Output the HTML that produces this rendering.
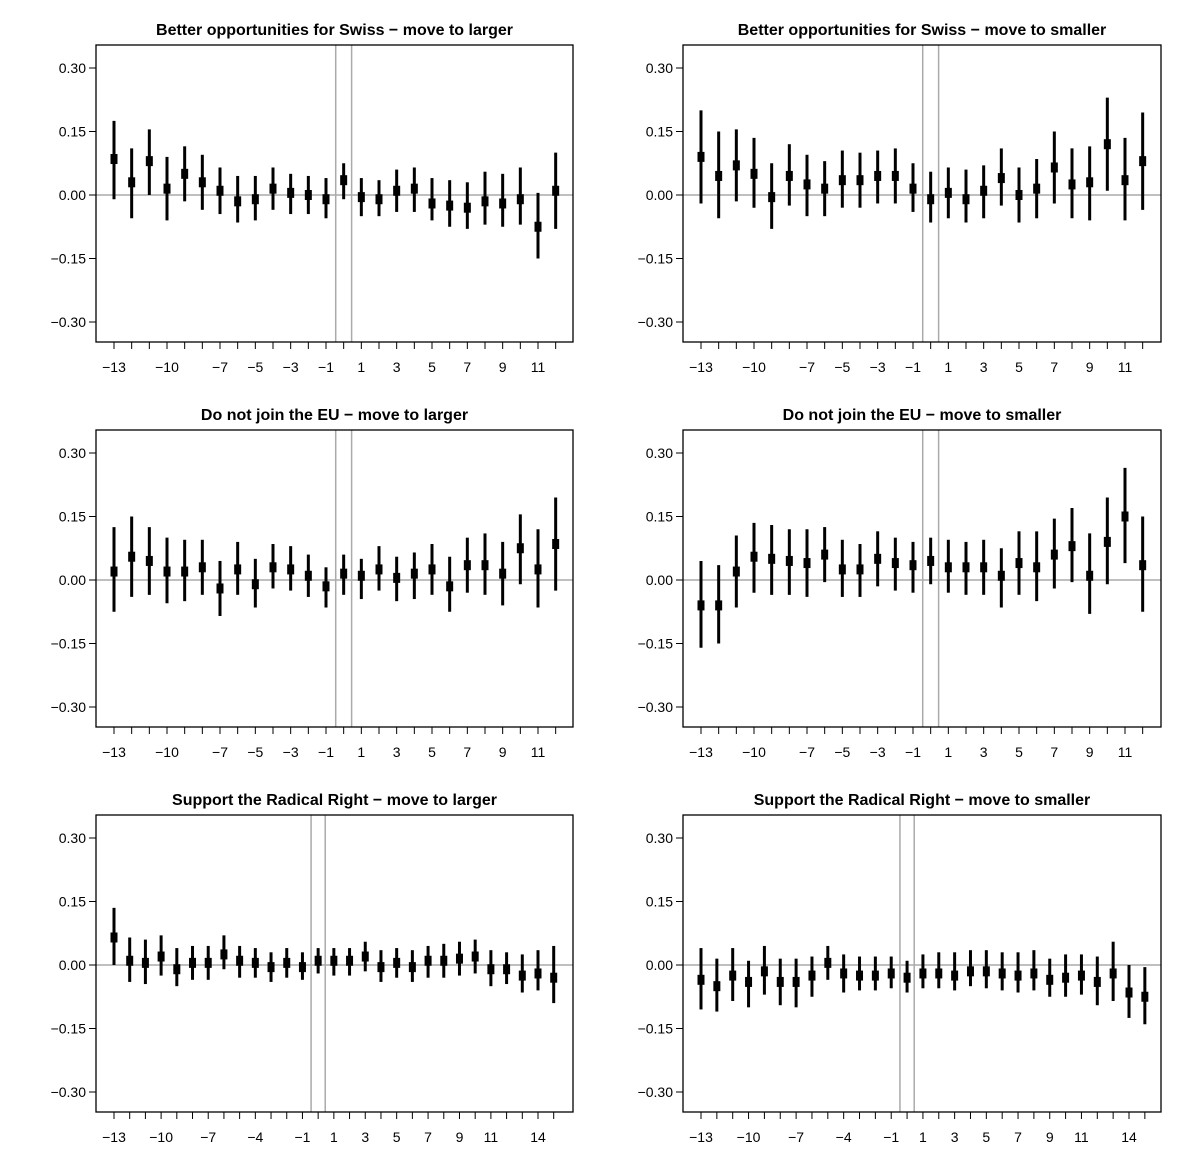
<!DOCTYPE html>
<html><head><meta charset="utf-8"><style>
body{margin:0;background:#fff;}
svg{display:block;font-family:"Liberation Sans",Arial,sans-serif;}
</style></head><body>
<svg id="c" width="1200" height="1162" viewBox="0 0 1200 1162"></svg>
<script>
const titles=["Better opportunities for Swiss \u2212 move to larger","Better opportunities for Swiss \u2212 move to smaller","Do not join the EU \u2212 move to larger","Do not join the EU \u2212 move to smaller","Support the Radical Right \u2212 move to larger","Support the Radical Right \u2212 move to smaller"];
const yTicks=[0.30,0.15,0.00,-0.15,-0.30];
const yTickLabels=["0.30","0.15","0.00","\u22120.15","\u22120.30"];
const xTicksTop=[-13,-10,-7,-5,-3,-1,1,3,5,7,9,11];
const xTicksBottom=[-13,-10,-7,-4,-1,1,3,5,7,9,11,14];
const p1Est=[0.085,0.03,0.08,0.015,0.05,0.03,0.01,-0.015,-0.01,0.015,0.005,0.0,-0.01,0.035,-0.005,-0.01,0.01,0.015,-0.02,-0.025,-0.03,-0.015,-0.02,-0.01,-0.075,0.01];
const p1Lo=[-0.01,-0.055,0.0,-0.06,-0.015,-0.035,-0.045,-0.065,-0.06,-0.035,-0.045,-0.045,-0.055,-0.01,-0.05,-0.05,-0.04,-0.04,-0.06,-0.075,-0.08,-0.07,-0.075,-0.07,-0.15,-0.08];
const p1Hi=[0.175,0.11,0.155,0.09,0.115,0.095,0.065,0.045,0.045,0.065,0.05,0.045,0.04,0.075,0.04,0.035,0.06,0.065,0.04,0.035,0.03,0.055,0.05,0.065,0.005,0.1];
const p2Est=[0.09,0.045,0.07,0.05,-0.005,0.045,0.025,0.015,0.035,0.035,0.045,0.045,0.015,-0.01,0.005,-0.01,0.01,0.04,0.0,0.015,0.065,0.025,0.03,0.12,0.035,0.08];
const p2Lo=[-0.02,-0.055,-0.015,-0.03,-0.08,-0.025,-0.05,-0.05,-0.03,-0.03,-0.02,-0.02,-0.04,-0.065,-0.055,-0.065,-0.055,-0.025,-0.065,-0.055,-0.02,-0.055,-0.06,0.01,-0.06,-0.035];
const p2Hi=[0.2,0.15,0.155,0.135,0.075,0.12,0.095,0.08,0.105,0.1,0.105,0.11,0.075,0.055,0.065,0.06,0.07,0.11,0.065,0.085,0.15,0.11,0.115,0.23,0.135,0.195];
const p3Est=[0.02,0.055,0.045,0.02,0.02,0.03,-0.02,0.025,-0.01,0.03,0.025,0.01,-0.015,0.015,0.01,0.025,0.005,0.015,0.025,-0.015,0.035,0.035,0.015,0.075,0.025,0.085];
const p3Lo=[-0.075,-0.04,-0.035,-0.055,-0.05,-0.035,-0.085,-0.035,-0.065,-0.02,-0.025,-0.04,-0.065,-0.035,-0.045,-0.025,-0.05,-0.045,-0.035,-0.075,-0.03,-0.035,-0.06,-0.01,-0.065,-0.025];
const p3Hi=[0.125,0.15,0.125,0.1,0.095,0.095,0.045,0.09,0.05,0.085,0.08,0.06,0.03,0.06,0.05,0.08,0.055,0.065,0.085,0.055,0.1,0.11,0.09,0.155,0.12,0.195];
const p4Est=[-0.06,-0.06,0.02,0.055,0.05,0.045,0.04,0.06,0.025,0.025,0.05,0.04,0.035,0.045,0.03,0.03,0.03,0.01,0.04,0.03,0.06,0.08,0.01,0.09,0.15,0.035];
const p4Lo=[-0.16,-0.15,-0.065,-0.03,-0.035,-0.035,-0.04,-0.005,-0.04,-0.04,-0.015,-0.025,-0.03,-0.01,-0.03,-0.035,-0.035,-0.065,-0.035,-0.05,-0.02,-0.005,-0.08,-0.01,0.04,-0.075];
const p4Hi=[0.045,0.035,0.105,0.135,0.13,0.12,0.12,0.125,0.095,0.085,0.115,0.1,0.09,0.1,0.095,0.09,0.095,0.075,0.115,0.115,0.145,0.17,0.11,0.195,0.265,0.15];
const p5Est=[0.065,0.01,0.005,0.02,-0.01,0.005,0.005,0.025,0.01,0.005,-0.005,0.005,-0.005,0.01,0.01,0.01,0.02,-0.005,0.005,-0.005,0.01,0.01,0.015,0.02,-0.01,-0.01,-0.025,-0.02,-0.03];
const p5Lo=[0.0,-0.04,-0.045,-0.025,-0.05,-0.035,-0.035,-0.01,-0.03,-0.03,-0.04,-0.03,-0.035,-0.02,-0.025,-0.025,-0.015,-0.04,-0.03,-0.04,-0.03,-0.03,-0.025,-0.02,-0.05,-0.045,-0.065,-0.06,-0.09];
const p5Hi=[0.135,0.065,0.06,0.07,0.04,0.045,0.045,0.07,0.045,0.04,0.03,0.04,0.03,0.04,0.04,0.04,0.055,0.035,0.04,0.035,0.045,0.05,0.055,0.06,0.035,0.03,0.025,0.035,0.045];
const p6Est=[-0.035,-0.05,-0.025,-0.04,-0.015,-0.04,-0.04,-0.025,0.005,-0.02,-0.025,-0.025,-0.02,-0.03,-0.02,-0.02,-0.025,-0.015,-0.015,-0.02,-0.025,-0.02,-0.035,-0.03,-0.025,-0.04,-0.02,-0.065,-0.075];
const p6Lo=[-0.105,-0.11,-0.085,-0.1,-0.07,-0.095,-0.1,-0.075,-0.035,-0.065,-0.06,-0.06,-0.055,-0.065,-0.055,-0.055,-0.06,-0.05,-0.055,-0.06,-0.065,-0.06,-0.075,-0.075,-0.07,-0.095,-0.085,-0.125,-0.14];
const p6Hi=[0.04,0.015,0.04,0.01,0.045,0.015,0.015,0.02,0.045,0.025,0.02,0.02,0.02,0.01,0.025,0.03,0.03,0.035,0.035,0.03,0.03,0.035,0.015,0.025,0.025,0.02,0.055,0.0,-0.005];
const ests=[p1Est,p2Est,p3Est,p4Est,p5Est,p6Est],los=[p1Lo,p2Lo,p3Lo,p4Lo,p5Lo,p6Lo],his=[p1Hi,p2Hi,p3Hi,p4Hi,p5Hi,p6Hi];
const NS="http://www.w3.org/2000/svg";
const svg=document.getElementById('c');
function mk(t,a,p){const e=document.createElementNS(NS,t);for(const k in a)e.setAttribute(k,a[k]);(p||svg).appendChild(e);return e;}
for(let p=0;p<6;p++){
  const col=p%2,row=Math.floor(p/2);
  const L=col?683:96,R=col?1161:573,T=45+row*385,B=342+row*385;
  const y0=195+row*385;
  const y=v=>y0-v/0.15*63.5;
  const bottom=row===2;
  const kmax=bottom?15:12;
  const x0=col?701:114, step=bottom?(col?(1129-701)/27:(538-114)/27):(col?(1125-701)/24:(538-114)/24);
  const x=k=>x0+(k+13)*step;
  const g=mk('g',{});
  
  
  const tt=mk('text',{x:(L+R)/2,y:T-10,'text-anchor':'middle','font-size':16,'font-weight':'bold',fill:'#000'},g);
  tt.textContent=titles[p];
  
  const hl=mk('line',{x1:L,x2:R,y1:y(0),y2:y(0),stroke:'#aaa','stroke-width':1.5},g);
  
  [-0.45,0.45].forEach(k=>{const vl=mk('line',{x1:x(k),x2:x(k),y1:T,y2:B,stroke:'#aaa','stroke-width':1.5},g);
    });
  const box=mk('rect',{x:L,y:T,width:R-L,height:B-T,fill:'none',stroke:'#000','stroke-width':1.3},g);
  
  yTicks.forEach((v,i)=>{mk('line',{x1:L-7,x2:L,y1:y(v),y2:y(v),stroke:'#000','stroke-width':1},g);
    const t=mk('text',{x:L-10,y:y(v)+5,'text-anchor':'end','font-size':14,fill:'#000'},g);t.textContent=yTickLabels[i];
    });
  for(let k=-13;k<=kmax;k++)mk('line',{x1:x(k),x2:x(k),y1:B,y2:B+7,stroke:'#000','stroke-width':1},g);
  (bottom?xTicksBottom:xTicksTop).forEach(k=>{const t=mk('text',{x:x(k),y:B+30,'text-anchor':'middle','font-size':14,fill:'#000'},g);
    t.textContent=k<0?'\u2212'+(-k):String(k);
    });
  const e=ests[p],lo=los[p],hi=his[p];
  for(let i=0;i<e.length;i++){const k=i-13;
    const ci=mk('line',{x1:x(k),x2:x(k),y1:y(lo[i]),y2:y(hi[i]),stroke:'#000','stroke-width':3},g);
    
    const pt=mk('rect',{x:x(k)-3.5,y:y(e[i])-5,width:7,height:10,fill:'#000'},g);
    }
}
</script>
</body></html>
